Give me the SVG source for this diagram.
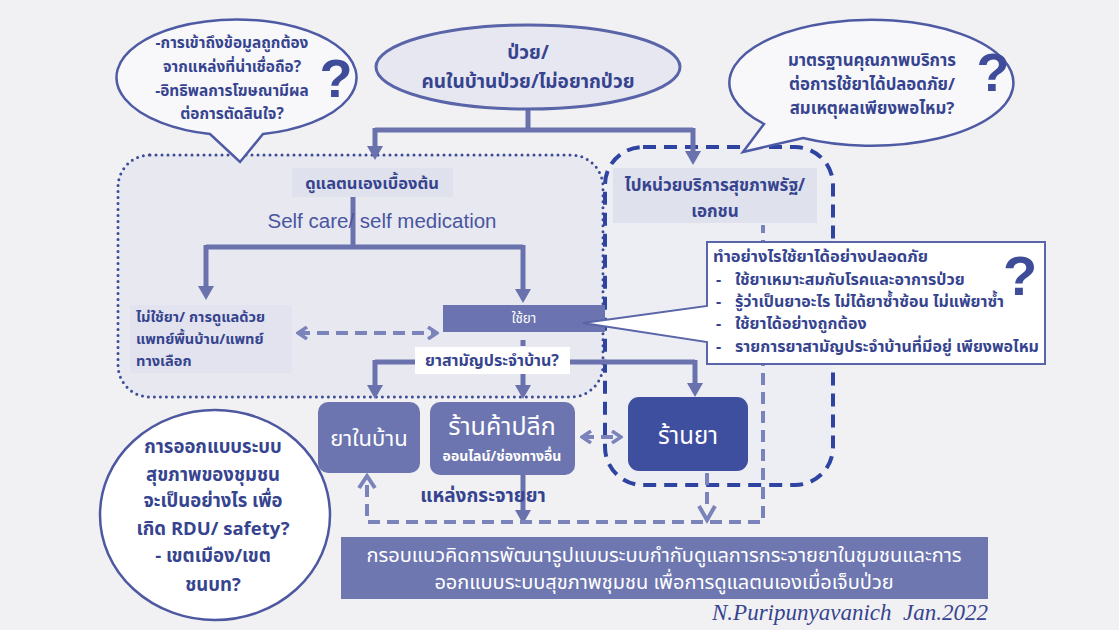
<svg xmlns="http://www.w3.org/2000/svg" width="1119" height="630" viewBox="0 0 1119 630">
<defs>
<style>
text{font-family:"Noto Sans Thai","Noto Sans","DejaVu Sans","Liberation Sans",sans-serif;}
.t{fill:#36448f;font-weight:bold;font-size:14px;}
.c{text-anchor:middle;}
.w{fill:#ffffff;}
.q{fill:#3f4c9a;font-family:"Liberation Sans",sans-serif;font-weight:bold;font-size:54px;text-anchor:middle;}
.en{font-family:"Liberation Sans",sans-serif;font-size:20.5px;fill:#4a55a0;text-anchor:middle;}
.sig{font-family:"Liberation Serif",serif;font-style:italic;font-size:23px;fill:#36448f;text-anchor:end;white-space:pre;}
.ln{fill:none;stroke:#6a72ad;stroke-width:5;}
.dl{fill:none;stroke:#7b83bb;stroke-width:4;stroke-dasharray:12 7;}
.bub{fill:#f8f8fb;stroke:#4e5aa3;stroke-width:2.5;}
.pb{fill:#6c75b0;}
</style>
<marker id="ah" viewBox="0 0 14 16" refX="0" refY="8" markerWidth="14" markerHeight="16" markerUnits="userSpaceOnUse" orient="auto">
<path d="M0,0 L14,8 L0,16 z" fill="#6a72ad"/>
</marker>
<marker id="ch" viewBox="0 0 12 14" refX="10" refY="7" markerWidth="12" markerHeight="14" markerUnits="userSpaceOnUse" orient="auto-start-reverse">
<path d="M1,1 L10,7 L1,13" fill="none" stroke="#7b83bb" stroke-width="3.5"/>
</marker>
</defs>
<rect x="0" y="0" width="1119" height="630" fill="#f1f1f4"/>

<g id="selfcare-zone">
<rect x="118" y="155" width="485" height="242" rx="32" fill="#e7e8f0" stroke="#3d4a98" stroke-width="3" stroke-dasharray="0 6" stroke-linecap="round"/>
</g>
<g id="service-zone">
<rect x="605" y="147" width="228" height="338" rx="38" fill="#eceef4" stroke="#2e44a0" stroke-width="4" stroke-dasharray="13 8"/>
</g>

<g id="connectors">
<path class="ln" d="M528,108 V130"/>
<path class="ln" d="M375,130 H693"/>
<path class="ln" d="M375,128 V146" marker-end="url(#ah)"/>
<path class="ln" d="M693,128 V151" marker-end="url(#ah)"/>
<path class="ln" d="M353,197 V247"/>
<path class="ln" d="M206,247 H523"/>
<path class="ln" d="M206,245 V286" marker-end="url(#ah)"/>
<path class="ln" d="M523,245 V289" marker-end="url(#ah)"/>
<path class="dl" d="M298,333 H437" marker-start="url(#ch)" marker-end="url(#ch)"/>
<path class="ln" d="M523,340 V350" stroke-dasharray="6 4"/>
<path class="ln" d="M375,362 H695"/>
<path class="ln" d="M375,360 V385" marker-end="url(#ah)"/>
<path class="ln" d="M523,374 V385" marker-end="url(#ah)"/>
<path class="ln" d="M695,360 V383" marker-end="url(#ah)"/>
<path class="dl" d="M582,437 H621" marker-start="url(#ch)" marker-end="url(#ch)"/>
<path class="ln" d="M523,475 V510" marker-end="url(#ah)"/>
<path class="dl" d="M707,473 V508"/>
<path d="M699,506 L707,520 L715,506" fill="none" stroke="#7b83bb" stroke-width="4"/>
<path class="dl" d="M367,485 V522 H763 V225"/>
<path d="M359,488 L367,476 L375,488" fill="none" stroke="#7b83bb" stroke-width="4"/>
</g>

<g id="sick">
<ellipse cx="528" cy="67" rx="152" ry="42" fill="#e6e7f1" stroke="#5a64a8" stroke-width="3"/>
<text class="t c" x="528" y="59" style="font-size:19px">ป่วย/</text>
<text class="t c" x="528" y="88" style="font-size:19px">คนในบ้านป่วย/ไม่อยากป่วย</text>
</g>

<g id="bubble-info">
<path class="bub" d="M210,134 A120,58 0 1 1 263,134 L240,162 Z"/>
<text class="t c" x="232" y="48" style="font-size:15.4px">-การเข้าถึงข้อมูลถูกต้อง</text>
<text class="t c" x="232" y="72" style="font-size:15.4px">จากแหล่งที่น่าเชื่อถือ?</text>
<text class="t c" x="232" y="96" style="font-size:15.4px">-อิทธิพลการโฆษณามีผล</text>
<text class="t c" x="232" y="119" style="font-size:15.4px">ต่อการตัดสินใจ?</text>
<text class="q" x="336" y="97">?</text>
</g>

<g id="bubble-standard">
<path class="bub" d="M764,124 A142,63 0 1 1 803,138 L743,152 Z"/>
<text class="t c" x="872" y="66" style="font-size:16.8px">มาตรฐานคุณภาพบริการ</text>
<text class="t c" x="872" y="90" style="font-size:16.8px">ต่อการใช้ยาได้ปลอดภัย/</text>
<text class="t c" x="872" y="114" style="font-size:16.8px">สมเหตุผลเพียงพอไหม?</text>
<text class="q" x="993" y="91">?</text>
</g>

<g id="selfcare-basic">
<rect x="292" y="168" width="161" height="29" fill="#dfe1ec"/>
<text class="t c" x="372" y="189" style="font-size:16.5px">ดูแลตนเองเบื้องต้น</text>
</g>
<text class="en" x="382" y="228">Self care/ self medication</text>

<g id="no-drug">
<rect x="130" y="305" width="162" height="68" fill="#e2e3ee"/>
<text class="t" x="136" y="322" style="font-size:14.6px">ไม่ใช้ยา/ การดูแลด้วย</text>
<text class="t" x="136" y="344" style="font-size:14.6px">แพทย์พื้นบ้าน/แพทย์</text>
<text class="t" x="136" y="366" style="font-size:14.6px">ทางเลือก</text>
</g>

<g id="use-drug">
<rect x="443" y="305" width="162" height="27" fill="#6b74b0"/>
<text class="c w" x="524" y="323" style="font-size:13.5px">ใช้ยา</text>
</g>

<g id="household-q">
<rect x="415" y="347" width="155" height="27" fill="#ffffff"/>
<text class="t c" x="492" y="366" style="font-size:16px">ยาสามัญประจำบ้าน?</text>
</g>

<g id="health-service">
<rect x="613" y="168" width="204" height="55" fill="#dfe1ec"/>
<text class="t c" x="715" y="191" style="font-size:17px">ไปหน่วยบริการสุขภาพรัฐ/</text>
<text class="t c" x="715" y="217" style="font-size:17px">เอกชน</text>
</g>

<g id="home-drug">
<rect class="pb" x="318" y="402" width="102" height="71" rx="10"/>
<text class="c w" x="369" y="446" style="font-size:22px">ยาในบ้าน</text>
</g>

<g id="retail">
<rect class="pb" x="430" y="402" width="145" height="73" rx="10"/>
<text class="c w" x="502" y="435" style="font-size:25px">ร้านค้าปลีก</text>
<text class="c w" x="502" y="461" style="font-size:14px;font-weight:bold">ออนไลน์/ช่องทางอื่น</text>
</g>

<g id="pharmacy">
<rect x="628" y="397" width="120" height="74" rx="11" fill="#3f4fa0"/>
<text class="c w" x="688" y="444" style="font-size:24px">ร้านยา</text>
</g>

<text class="t c" x="483" y="502" style="font-size:19px">แหล่งกระจายยา</text>

<g id="callout">
<path d="M707,242 H1045 V364 H707 V342 L583,323 L707,306 Z" fill="#ffffff" stroke="#5a64a8" stroke-width="2"/>
<text class="t" x="713" y="262" style="font-size:16.5px">ทำอย่างไรใช้ยาได้อย่างปลอดภัย</text>
<text class="t" x="716" y="285" style="font-size:16px">-</text>
<text class="t" x="735" y="285" style="font-size:16px">ใช้ยาเหมาะสมกับโรคและอาการป่วย</text>
<text class="t" x="716" y="307" style="font-size:16px">-</text>
<text class="t" x="735" y="307" style="font-size:16px">รู้ว่าเป็นยาอะไร ไม่ได้ยาซ้ำซ้อน ไม่แพ้ยาซ้ำ</text>
<text class="t" x="716" y="329" style="font-size:16px">-</text>
<text class="t" x="735" y="329" style="font-size:16px">ใช้ยาได้อย่างถูกต้อง</text>
<text class="t" x="716" y="352" style="font-size:16px">-</text>
<text class="t" x="735" y="352" style="font-size:16px">รายการยาสามัญประจำบ้านที่มีอยู่ เพียงพอไหม</text>
<text class="q" x="1020" y="295" style="font-size:56px">?</text>
</g>

<g id="community-design">
<ellipse cx="215" cy="515" rx="115" ry="105" fill="#ffffff" stroke="#4e58a0" stroke-width="2.5"/>
<text class="t c" x="213" y="453" style="font-size:18.5px">การออกแบบระบบ</text>
<text class="t c" x="213" y="481" style="font-size:18.5px">สุขภาพของชุมชน</text>
<text class="t c" x="213" y="507" style="font-size:18.5px">จะเป็นอย่างไร เพื่อ</text>
<text class="t c" x="213" y="535" style="font-size:18.5px">เกิด RDU/ safety?</text>
<text class="t c" x="213" y="562" style="font-size:18.5px">- เขตเมือง/เขต</text>
<text class="t c" x="213" y="591" style="font-size:18.5px">ชนบท?</text>
</g>

<g id="framework">
<rect x="341" y="537" width="647" height="62" fill="#6e77b0"/>
<text class="c w" x="664" y="562" style="font-size:20px">กรอบแนวคิดการพัฒนารูปแบบระบบกำกับดูแลการกระจายยาในชุมชนและการ</text>
<text class="c w" x="664" y="589" style="font-size:20px">ออกแบบระบบสุขภาพชุมชน เพื่อการดูแลตนเองเมื่อเจ็บป่วย</text>
</g>

<text class="sig" x="988" y="620">N.Puripunyavanich  Jan.2022</text>
</svg>
